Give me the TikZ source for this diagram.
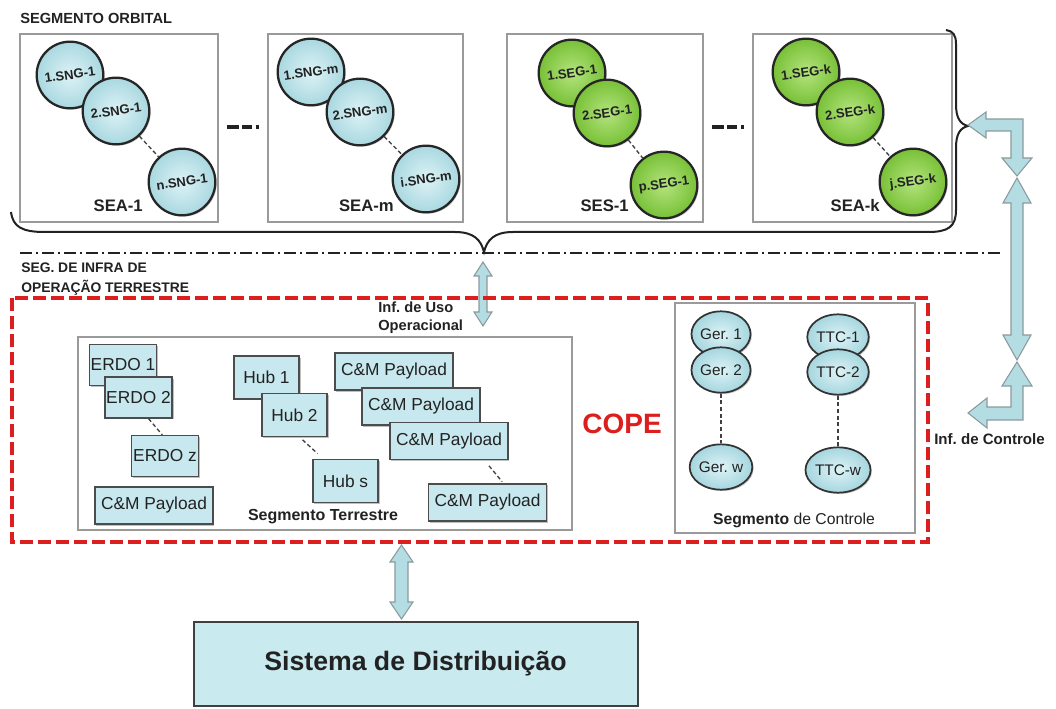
\documentclass[tikz,border=0pt]{standalone}
\usepackage{fontspec}
\setmainfont{Liberation Sans}
\usetikzlibrary{shapes.geometric,shadows}
\definecolor{cyanL}{HTML}{DDF3F6}
\definecolor{cyanD}{HTML}{A6D6DF}
\definecolor{greenL}{HTML}{B4E47E}
\definecolor{greenD}{HTML}{74BE32}
\definecolor{rectfill}{HTML}{C7E8EE}
\definecolor{sysfill}{HTML}{C9EBF0}
\definecolor{arrfill}{HTML}{B3DCE3}
\definecolor{arredge}{HTML}{8C9A9C}
\definecolor{copered}{HTML}{DC1E1E}
\definecolor{boxgray}{HTML}{9A9A9A}
\definecolor{txt}{HTML}{222222}
\begin{document}
\frenchspacing
\begin{tikzpicture}[x=0.75pt,y=-0.75pt,
  segbox/.style={draw=boxgray, line width=0.9pt},
  orbcirc/.style={circle, draw=black!85, line width=1.7pt, minimum size=50pt, inner sep=0pt,
     font=\bfseries\fontsize{9.8}{11}\selectfont, text=txt, rotate=8,
     drop shadow={shadow xshift=1pt, shadow yshift=-1pt, opacity=.45}},
  bluecirc/.style={orbcirc, inner color=cyanL, outer color=cyanD},
  greencirc/.style={orbcirc, inner color=greenL, outer color=greenD},
  ctrlcirc/.style={ellipse, draw=black!80, line width=1.3pt, minimum width=40pt, minimum height=34pt,
     inner sep=0pt, inner color=cyanL, outer color=cyanD, font=\fontsize{11.5}{13}\selectfont, text=txt,
     drop shadow={shadow xshift=1pt, shadow yshift=-1pt, opacity=.45}},
  rectnode/.style={rectangle, draw=black!70, line width=1.2pt, fill=rectfill, inner sep=0pt,
     font=\fontsize{13}{15}\selectfont, text=txt,
     drop shadow={shadow xshift=1pt, shadow yshift=-1pt, opacity=.5}},
  erdo/.style={rectnode, minimum width=50.5pt, minimum height=30.5pt},
  hub/.style={rectnode, minimum width=49pt, minimum height=32pt},
  cmp/.style={rectnode, minimum width=88.5pt, minimum height=28pt},
  seglbl/.style={font=\bfseries\fontsize{12.5}{14}\selectfont, text=txt, inner sep=0pt},
  headlbl/.style={font=\bfseries\fontsize{11}{13}\selectfont, text=txt, inner sep=0pt, align=left},
  link/.style={draw=black!75, line width=1pt, dash pattern=on 3pt off 2pt},
  ellip/.style={line width=2.4pt, draw=txt, dash pattern=on 9pt off 2.25pt on 7.5pt off 3pt on 2.5pt off 30pt},
  blockarr/.style={fill=arrfill, draw=arredge, line width=0.8pt, line join=miter}
]
\useasboundingbox (0,0) rectangle (1056,709);

% ---------- Segmento orbital ----------
\node[headlbl, anchor=west] (horb) at (20,18) {SEGMENTO ORBITAL};

\draw[segbox] (20,34) rectangle (218,222);
\draw[segbox] (268,34) rectangle (463,222);
\draw[segbox] (507,34) rectangle (703,222);
\draw[segbox] (753,34) rectangle (952,222);

% box 1
\node[bluecirc] (a1) at (70,75) {1.SNG-1};
\node[bluecirc] (a2) at (116,111) {2.SNG-1};
\node[bluecirc] (a3) at (182,182) {n.SNG-1};
\draw[link] (a2) -- (a3);
\node[seglbl, anchor=east] (la) at (143,206) {SEA-1};
% box 2
\node[bluecirc] (b1) at (311,72) {1.SNG-m};
\node[bluecirc] (b2) at (360,112) {2.SNG-m};
\node[bluecirc] (b3) at (426,179) {i.SNG-m};
\draw[link] (b2) -- (b3);
\node[seglbl, anchor=east] (lb) at (394,206) {SEA-m};
% box 3
\node[greencirc] (c1) at (572,73) {1.SEG-1};
\node[greencirc] (c2) at (607,113) {2.SEG-1};
\node[greencirc] (c3) at (664,185) {p.SEG-1};
\draw[link] (c2) -- (c3);
\node[seglbl, anchor=east] (lc) at (629,206) {SES-1};
% box 4
\node[greencirc] (d1) at (806,72) {1.SEG-k};
\node[greencirc] (d2) at (850,112) {2.SEG-k};
\node[greencirc] (d3) at (913,182) {j.SEG-k};
\draw[link] (d2) -- (d3);
\node[seglbl, anchor=east] (ld) at (880,206) {SEA-k};

% ellipsis marks
\draw[ellip] (227,127) -- (262,127);
\draw[ellip] (712,127) -- (747,127);

% brace
\draw[line width=1.5pt, draw=txt]
  (11,212) .. controls (13,227) and (22,232) .. (45,232) -- (455,232)
  .. controls (474,232) and (481,240) .. (484,252)
  .. controls (487,240) and (494,232) .. (513,232) -- (928,232)
  .. controls (948,232) and (956,227) .. (956,210) -- (956,148)
  .. controls (956,134) and (960,128) .. (968,126)
  .. controls (960,124) and (956,118) .. (956,104) -- (956,44)
  .. controls (956,35) and (953,31) .. (946,30);

% dash-dot separator
\draw[draw=txt, line width=0.9pt, dash pattern=on 9pt off 3pt on 1.5pt off 3pt] (20,253) -- (1000,253);

\node[headlbl, anchor=west, font=\bfseries\fontsize{10.4}{15.5}\selectfont] (hinf) at (21,279) {SEG.\ DE INFRA DE\\OPERAÇÃO TERRESTRE};

% Inf. de Uso arrow
\draw[blockarr] (483,262) -- (492,276) -- (487,276) -- (487,312) -- (492,312) -- (483,326)
  -- (474,312) -- (479,312) -- (479,276) -- (474,276) -- cycle;
\node[headlbl, anchor=west, font=\bfseries\fontsize{11}{13.5}\selectfont] (infuso) at (378,318) {Inf.\ de Uso\\Operacional};

% COPE red dashed boundary
\draw[draw=copered, line width=3pt, dash pattern=on 10pt off 3.5pt] (12,298) rectangle (928,542);
\node[font=\bfseries\fontsize{21}{24}\selectfont, text=copered, inner sep=0pt] (cope) at (622,424) {COPE};

% ---------- Segmento terrestre ----------
\draw[segbox] (78,337) rectangle (572,530);
\node[erdo] (e1) at (123,365) {ERDO 1};
\node[erdo] (e2) at (138.5,397.5) {ERDO 2};
\node[erdo] (ez) at (165,456) {ERDO z};
\draw[link] ([xshift=7.5pt]e2.south) -- ([xshift=-2pt]ez.north);
\node[cmp] (cm0) at (154,505.5) {C\&M Payload};
\node[hub] (h1) at (266.5,377.5) {Hub 1};
\node[hub] (h2) at (294.5,415) {Hub 2};
\node[hub] (hs) at (345.5,481) {Hub s};
\draw[link] ([xshift=6pt,yshift=-2pt]h2.south) -- ([xshift=-21pt,yshift=4pt]hs.north);
\node[cmp] (cm1) at (394,371.5) {C\&M Payload};
\node[cmp] (cm2) at (421,406.5) {C\&M Payload};
\node[cmp] (cm3) at (449,441) {C\&M Payload};
\node[cmp] (cm4) at (487.5,502.5) {C\&M Payload};
\draw[link] ([xshift=30pt,yshift=-4pt]cm3.south) -- ([xshift=11pt,yshift=1pt]cm4.north);
\node[font=\bfseries\fontsize{12}{14}\selectfont, text=txt, inner sep=0pt] (segter) at (323,517) {Segmento Terrestre};

% ---------- Segmento de controle ----------
\draw[segbox] (675,303) rectangle (915,533);
\node[ctrlcirc] (g1) at (721,334) {Ger.\ 1};
\node[ctrlcirc] (g2) at (721,370) {Ger.\ 2};
\node[ctrlcirc] (gw) at (721,467) {Ger.\ w};
\draw[link] (g2) -- (gw);
\node[ctrlcirc] (t1) at (838,337) {TTC-1};
\node[ctrlcirc] (t2) at (838,372) {TTC-2};
\node[ctrlcirc] (tw) at (838,470) {TTC-w};
\draw[link] (t2) -- (tw);
\node[font=\fontsize{11.8}{13}\selectfont, text=txt, inner sep=0pt] (segctl) at (794,520) {{\bfseries Segmento} de Controle};

% ---------- right control arrows ----------
\draw[blockarr] (968,125) -- (986,112) -- (986,119) -- (1023,119) -- (1023,158) -- (1032,158)
  -- (1017,176) -- (1002,158) -- (1011,158) -- (1011,131) -- (986,131) -- (986,138) -- cycle;
\draw[blockarr] (1017,178) -- (1031,203) -- (1023,203) -- (1023,335) -- (1031,335) -- (1017,360)
  -- (1003,335) -- (1011,335) -- (1011,203) -- (1003,203) -- cycle;
\draw[blockarr] (1017,362) -- (1032,386) -- (1023,386) -- (1023,420) -- (987,420) -- (987,428)
  -- (968,413) -- (987,398) -- (987,407) -- (1011,407) -- (1011,386) -- (1002,386) -- cycle;
\node[font=\bfseries\fontsize{11.3}{13}\selectfont, text=txt, inner sep=0pt, anchor=west] (infctl) at (934,439) {Inf.\ de Controle};

% ---------- Sistema de Distribuicao ----------
\draw[blockarr] (401.5,545) -- (413,562) -- (408,562) -- (408,602) -- (413,602) -- (401.5,619)
  -- (390,602) -- (395,602) -- (395,562) -- (390,562) -- cycle;
\node[draw=black!75, line width=1.5pt, fill=sysfill, minimum width=333pt, minimum height=63pt,
  font=\bfseries\fontsize{20}{24}\selectfont, text=txt] (sist) at (415.5,664) {Sistema de Distribuição};
\end{tikzpicture}
\end{document}
